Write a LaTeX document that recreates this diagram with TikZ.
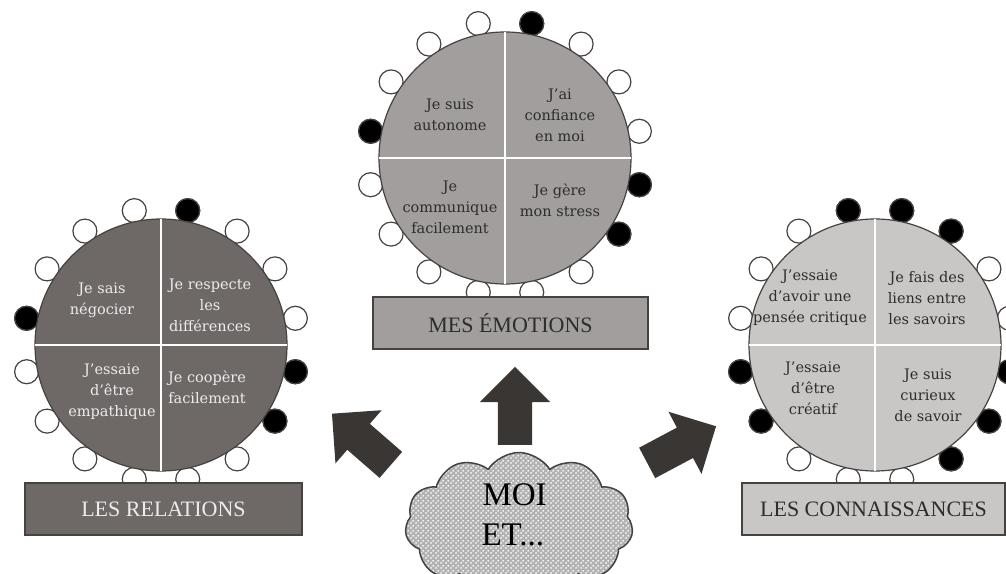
\documentclass[tikz,border=0pt]{standalone}
\usepackage{fontspec}
\setmainfont{Liberation Serif}
\newfontfamily\skillfamily{DejaVu Serif}
\usetikzlibrary{shapes.arrows,shapes.symbols,patterns}

\definecolor{rimgray}{RGB}{70,66,64}
\definecolor{relgray}{RGB}{110,105,103}
\definecolor{emogray}{RGB}{161,158,157}
\definecolor{conngray}{RGB}{201,199,198}
\definecolor{arrowgray}{RGB}{58,54,52}
\definecolor{inkgray}{RGB}{45,45,45}
\definecolor{paleink}{RGB}{236,236,236}

\pgfdeclarepatternformonly{cloud dots}{\pgfqpoint{0pt}{0pt}}{\pgfqpoint{5pt}{5pt}}{\pgfqpoint{5pt}{5pt}}{%
  \pgfpathcircle{\pgfqpoint{1.25pt}{1.25pt}}{1.15pt}%
  \pgfpathcircle{\pgfqpoint{3.75pt}{3.75pt}}{1.15pt}%
  \pgfusepath{fill}}

\newcommand\skillfont{\skillfamily\fontsize{14.5}{21}\selectfont}
\newcommand\boxfont{\fontsize{22}{26}\selectfont}

% ring of small knobs around a disc: x, y, list of black ones
\newcommand\knobring[3]{
        \foreach \k in {0,...,15}
          \draw [knob] (#1,#2) ++(11.25+22.5*\k:137) circle (12);
        \foreach \k in {#3}
          \draw [knob, fill=black] (#1,#2) ++(11.25+22.5*\k:137) circle (12);
}
% disc cut in four: name, x, y, colour
\newcommand\quadrants[4]{
        \node [disc, fill=#4] (#1) at (#2,#3) {};
        \draw [divider] (#1.north) -- (#1.south);
        \draw [divider] (#1.west) -- (#1.east);
}

\begin{document}
\begin{tikzpicture}[x=1pt, y=1pt,
        knob/.style={line width=1.2pt, draw=rimgray, fill=white},
        disc/.style={circle, minimum size=252, inner sep=0pt, draw=rimgray, line width=1.2pt},
        divider/.style={white, line width=2.5pt, shorten <=0.7pt, shorten >=0.7pt},
        skill/.style={align=center, font=\skillfont},
        title box/.style={draw=rimgray, line width=1.2pt, minimum height=52, inner sep=0pt, font=\boxfont},
        big arrow/.style={single arrow, fill=arrowgray, minimum height=78, inner xsep=0pt, inner ysep=17pt,
          single arrow head extend=18pt, anchor=tail}
        ]
        \useasboundingbox (0,0) rectangle (1006,573);
        \clip (0,0) rectangle (1006,573);

        % les relations
        \knobring{161}{228}{3,7,14,15}
        \quadrants{rel}{161}{228}{relgray}
        \begin{scope}[text=paleink]
          \node [skill] (negocier) at (102,273) {Je sais\\négocier};
          \node [skill] (respecte) at (210,268) {Je respecte\\les\\différences};
          \node [skill] (empathique) at (112,181) {J’essaie\\d’être\\empathique};
          \node [skill] (coopere) at (207,186) {Je coopère\\facilement};
        \end{scope}
        \node [title box, fill=relgray, text=paleink, minimum width=277] (relations) at (163.5,64) {LES RELATIONS};

        % mes emotions
        \knobring{505}{415}{3,7,14,15}
        \quadrants{emo}{505}{415}{emogray}
        \begin{scope}[text=inkgray]
          \node [skill] (autonome) at (450,458) {Je suis\\autonome};
          \node [skill] (confiance) at (560,458) {J’ai\\confiance\\en moi};
          \node [skill] (communique) at (450,366) {Je\\communique\\facilement};
          \node [skill] (stress) at (560,373) {Je gère\\mon stress};
        \end{scope}
        \node [title box, fill=emogray, text=inkgray, minimum width=275] (emotions) at (510.5,250) {MES ÉMOTIONS};

        % les connaissances
        \knobring{875}{228}{2,3,4,8,9,13,14,15}
        \quadrants{conn}{875}{228}{conngray}
        \begin{scope}[text=inkgray]
          \node [skill] (critique) at (810,275) {J’essaie\\d’avoir une\\pensée critique};
          \node [skill] (liens) at (927,275) {Je fais des\\liens entre\\les savoirs};
          \node [skill] (creatif) at (813,185) {J’essaie\\d’être\\créatif};
          \node [skill] (curieux) at (928,178) {Je suis\\curieux\\de savoir};
        \end{scope}
        \node [title box, fill=conngray, text=inkgray, minimum width=263] (connaissances) at (873.5,64) {LES CONNAISSANCES};

        % arrows and cloud
        \node [big arrow, rotate=139] (toleft) at (391,108) {};
        \node [big arrow, rotate=90] (toup) at (515,128) {};
        \node [big arrow, rotate=28] (toright) at (647,110) {};
        \node [cloud, cloud puffs=11, cloud puff arc=115, cloud ignores aspect,
          minimum width=228, minimum height=145, draw=rimgray, line width=1.5pt,
          preaction={fill=gray!60}, pattern=cloud dots, pattern color=white] (moi cloud) at (519,48) {};
        \node [anchor=base west, font=\fontsize{33}{36}\selectfont] (moi) at (479,68) {MOI};
        \node [anchor=base west, font=\fontsize{33}{36}\selectfont] (et) at (478,28) {ET...};
\end{tikzpicture}
\end{document}
